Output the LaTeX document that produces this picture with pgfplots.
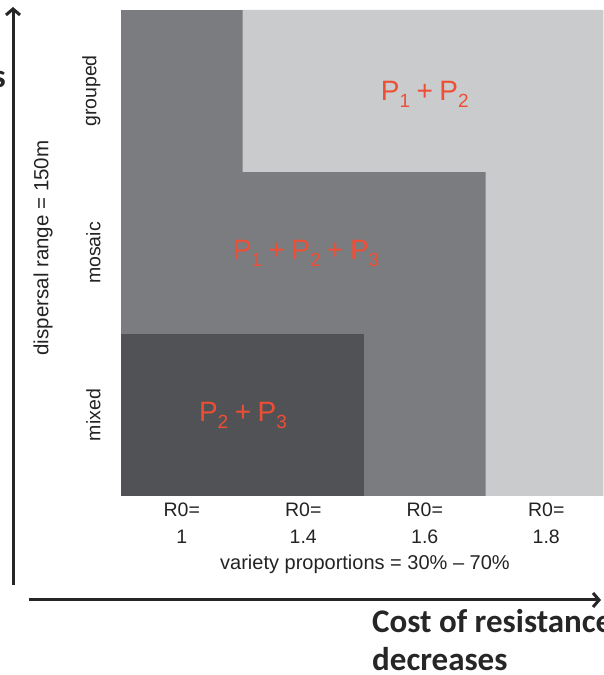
\documentclass[border=0pt]{standalone}
\usepackage{pgfplots}
\pgfplotsset{compat=1.18}
\usepackage{fontspec}
\setmainfont{Liberation Sans}
\newfontfamily\calibri{Carlito}
\usetikzlibrary{arrows.meta}
\definecolor{darkg}{RGB}{80,82,85}
\definecolor{midg}{RGB}{123,124,128}
\definecolor{lightg}{RGB}{202,203,205}
\definecolor{redt}{RGB}{238,78,52}
\definecolor{txt}{RGB}{35,35,35}
\newcommand\Pn[1]{P\raisebox{-7pt}{\fontsize{19}{19}\selectfont #1}}
\newcommand\plus{\hspace{6.5pt}+\hspace{6.5pt}}

\begin{document}
\begin{tikzpicture}
\useasboundingbox (0pt,0pt) rectangle (603pt,675pt);
\clip (0pt,0pt) rectangle (603pt,675pt);
\begin{axis}[
  at={(121pt,179pt)}, anchor=south west,
  scale only axis, width=482pt, height=486pt,
  xmin=0, xmax=3.967, ymin=0, ymax=3,
  axis line style={draw=none},
  major tick length=0pt,
  xtick={0.5,1.5,2.5,3.5},
  xticklabels={{R0=\\1},{R0=\\1.4},{R0=\\1.6},{R0=\\1.8}},
  xticklabel style={align=center, font=\fontsize{19.5}{27}\selectfont, text=txt, yshift=-3pt},
  ytick={0.5,1.5,2.5},
  yticklabels={mixed,mosaic,grouped},
  yticklabel style={rotate=90, anchor=south, font=\fontsize{19.5}{23}\selectfont, text=txt},
  yticklabel shift=17pt,
]
\addplot[fill=midg, draw=none, mark=none, forget plot] coordinates {(0,0) (4,0) (4,3) (0,3)};
\addplot[fill=lightg, draw=none, mark=none, forget plot] coordinates {(1,3) (4,3) (4,0) (3,0) (3,2) (1,2)};
\addplot[fill=darkg, draw=none, mark=none, forget plot] coordinates {(0,0) (2,0) (2,1) (0,1)};
\node[anchor=base, text=redt, font=\fontsize{28}{28}\selectfont, inner sep=0pt] at (axis cs:2.5,2.444) {\Pn1\plus\Pn2};
\node[anchor=base, text=redt, font=\fontsize{28}{28}\selectfont, inner sep=0pt] at (axis cs:1.523,1.457) {\Pn1\plus\Pn2\plus\Pn3};
\node[anchor=base, text=redt, font=\fontsize{28}{28}\selectfont, inner sep=0pt] at (axis cs:1.004,0.457) {\Pn2\plus\Pn3};
\end{axis}
\node[rotate=90, font=\fontsize{20.5}{20}\selectfont, text=txt] at (43pt,427pt) {dispersal range = 150m};
\node[anchor=base, font=\fontsize{20}{20}\selectfont, text=txt, inner sep=0pt] at (365pt,105pt) {variety proportions = 30\% -- 70\%};
\draw[line width=3pt, color=black!85, -{Straight Barb[length=6pt,width=14pt]}] (13pt,90pt) -- (13pt,668pt);
\draw[line width=3pt, color=black!85, -{Straight Barb[length=6pt,width=14pt]}] (29pt,75pt) -- (601pt,75pt);
\node[anchor=base west, inner sep=0pt, font=\calibri\bfseries\fontsize{33}{37}\selectfont, text=black!85] at (372pt,42pt) {Cost of resistance};
\node[anchor=base west, inner sep=0pt, font=\calibri\bfseries\fontsize{33}{37}\selectfont, text=black!85] at (372pt,5pt) {decreases};
\node[anchor=base east, inner sep=0pt, font=\calibri\bfseries\fontsize{33}{37}\selectfont, text=black!85] at (6pt,587pt) {s};
\end{tikzpicture}
\end{document}
